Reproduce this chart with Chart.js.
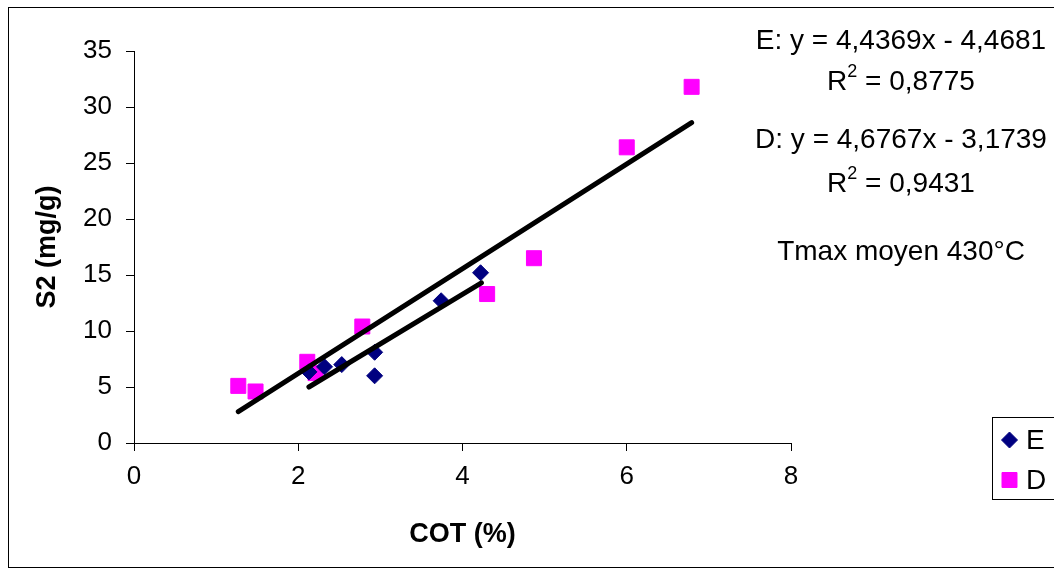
<!DOCTYPE html>
<html>
<head>
<meta charset="utf-8">
<script src="https://cdn.jsdelivr.net/npm/chart.js@4/dist/chart.umd.min.js"></script>
<style>
	html, body { margin: 0; padding: 0; background: #fff; }
	#wrap { width: 1054px; height: 574px; position: relative; }
</style>
</head>
<body>
<div id="wrap"><canvas id="s2Chart"></canvas></div>
<script>
// values
const cotE = [2.13, 2.32, 2.53, 2.93, 2.93, 3.74, 4.22];
const s2E = [6.35, 6.8, 7.0, 8.1, 6.0, 12.7, 15.2];
const cotD = [1.27, 1.48, 2.11, 2.21, 2.78, 4.30, 4.87, 6.0, 6.79];
const s2D = [5.1, 4.6, 7.25, 6.24, 10.4, 13.3, 16.5, 26.4, 31.8];
// trend line end points (as drawn)
const trendEx = [2.13, 4.23];
const trendEy = [5.0, 14.3];
const trendDx = [1.27, 6.79];
const trendDy = [2.8, 28.6];
const xTicks = [0, 2, 4, 6, 8];
const yTicks = [0, 5, 10, 15, 20, 25, 30, 35];
const notes = ['E: y = 4,4369x - 4,4681', '0,8775', 'D: y = 4,6767x - 3,1739', '0,9431', 'Tmax moyen 430°C'];

const FONT = '"Liberation Sans", Arial, sans-serif';
const pts = (xs, ys) => xs.map((x, i) => ({x: x, y: ys[i]}));

const decor = {
	id: 'decor',
	afterDraw(chart) {
		const ctx = chart.ctx;
		ctx.save();
		ctx.strokeStyle = '#000';
		ctx.lineWidth = 1;
		ctx.strokeRect(8.5, 7.5, 1060, 560);

		// equations
		ctx.fillStyle = '#000';
		ctx.textBaseline = 'middle';
		ctx.textAlign = 'center';
		ctx.font = '28px ' + FONT;
		const cx = 901;
		ctx.fillText(notes[0], cx, 41);
		ctx.fillText(notes[2], cx, 140);
		ctx.fillText(notes[4], cx, 252);
		const r2 = (val, y) => {
			ctx.font = '28px ' + FONT;
			const rest = ' = ' + val;
			const wR = ctx.measureText('R').width;
			const wRest = ctx.measureText(rest).width;
			ctx.font = '18px ' + FONT;
			const w2 = ctx.measureText('2').width;
			let x = cx - (wR + w2 + wRest) / 2;
			ctx.textAlign = 'left';
			ctx.font = '28px ' + FONT;
			ctx.fillText('R', x, y);
			ctx.font = '18px ' + FONT;
			ctx.fillText('2', x + wR, y - 10);
			ctx.font = '28px ' + FONT;
			ctx.fillText(rest, x + wR + w2, y);
			ctx.textAlign = 'center';
		};
		r2(notes[1], 82);
		r2(notes[3], 184);

		// legend
		ctx.strokeRect(992.5, 417.5, 80, 82);
		const items = chart.data.datasets.filter(d => d.inLegend);
		items.forEach((d, i) => {
			const y = 440 + i * 40;
			ctx.fillStyle = d.backgroundColor;
			ctx.strokeStyle = d.borderColor;
			Chart.helpers.drawPoint(ctx, {pointStyle: d.pointStyle, radius: d.pointRadius, rotation: 0, borderWidth: 1}, 1009.5, y);
			ctx.fillStyle = '#000';
			ctx.textAlign = 'left';
			ctx.font = '28px ' + FONT;
			ctx.fillText(d.label, 1026, y + 1);
		});
		ctx.restore();
	}
};

new Chart(document.getElementById('s2Chart'), {
	type: 'scatter',
	data: {
		datasets: [{
			label: 'E',
			inLegend: true,
			data: pts(cotE, s2E),
			pointStyle: 'rectRot',
			pointRadius: 8,
			backgroundColor: '#000080',
			borderColor: '#000080',
			borderWidth: 1,
			order: 1
		}, {
			label: 'D',
			inLegend: true,
			data: pts(cotD, s2D),
			pointStyle: 'rect',
			pointRadius: 10.6,
			backgroundColor: '#ff00ff',
			borderColor: '#ff00ff',
			borderWidth: 1,
			order: 1
		}, {
			label: 'trend E',
			data: pts(trendEx, trendEy),
			showLine: true,
			borderColor: '#000',
			borderWidth: 5,
			borderCapStyle: 'round',
			pointRadius: 0,
			order: 0
		}, {
			label: 'trend D',
			data: pts(trendDx, trendDy),
			showLine: true,
			borderColor: '#000',
			borderWidth: 5,
			borderCapStyle: 'round',
			pointRadius: 0,
			order: 0
		}]
	},
	options: {
		responsive: true,
		maintainAspectRatio: false,
		animation: false,
		layout: {
			padding: {left: 0, right: 263, top: 51, bottom: 0}
		},
		scales: {
			x: {
				type: 'linear',
				min: 0,
				max: 8,
				afterBuildTicks: s => { s.ticks = xTicks.map(v => ({value: v})); },
				afterFit: s => { s.height = 131; },
				grid: {drawOnChartArea: false, drawTicks: true, tickLength: 8, color: '#000'},
				border: {color: '#000', width: 1},
				ticks: {color: '#000', padding: 10, font: {family: FONT, size: 26}},
				title: {display: true, text: 'COT (%)', color: '#000', padding: {top: 0, bottom: 23}, font: {family: FONT, size: 27, weight: 'bold'}}
			},
			y: {
				type: 'linear',
				min: 0,
				max: 35,
				afterBuildTicks: s => { s.ticks = yTicks.map(v => ({value: v})); },
				afterFit: s => { s.width = 134; },
				grid: {drawOnChartArea: false, drawTicks: true, tickLength: 8, color: '#000'},
				border: {color: '#000', width: 1},
				ticks: {color: '#000', padding: 14, font: {family: FONT, size: 26}},
				title: {display: true, text: 'S2 (mg/g)', color: '#000', padding: {top: 31, bottom: 0}, font: {family: FONT, size: 27, weight: 'bold'}}
			}
		},
		plugins: {
			legend: {display: false},
			tooltip: {enabled: false}
		}
	},
	plugins: [decor]
});
</script>
</body>
</html>
